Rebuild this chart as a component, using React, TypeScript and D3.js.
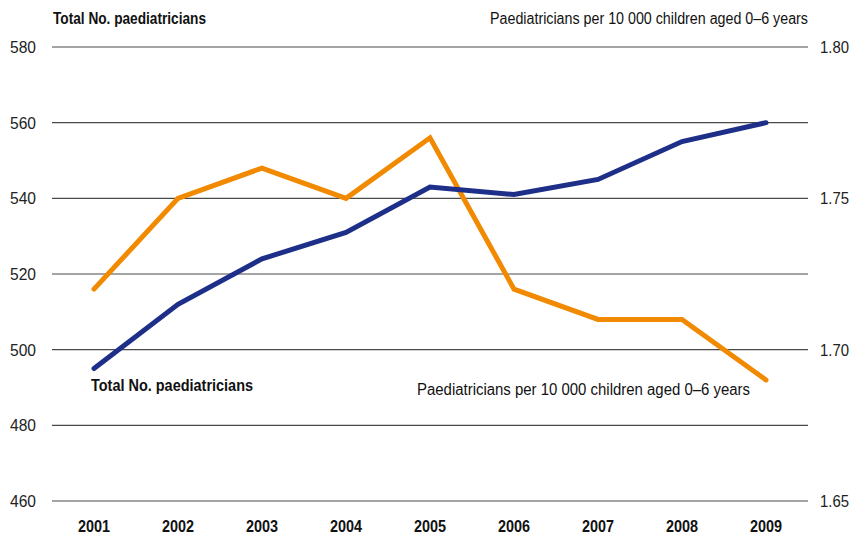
import React from "react";
import * as d3 from "d3";

const years = ["2001", "2002", "2003", "2004", "2005", "2006", "2007", "2008", "2009"];
const totalPaediatricians = [495, 512, 524, 531, 543, 541, 545, 555, 560];
const perTenThousand = [1.72, 1.75, 1.76, 1.75, 1.77, 1.72, 1.71, 1.71, 1.69];
const leftTicks = [460, 480, 500, 520, 540, 560, 580];
const rightTicks = [1.65, 1.7, 1.75, 1.8];

const W = 850;
const H = 534;
const FONT = "'Liberation Sans Narrow', 'Arial Narrow', 'Liberation Sans', Arial, sans-serif";

export default function App() {
  const x0 = 52, x1 = 808, yTop = 47, yBot = 501;
  const x = d3.scalePoint<string>().domain(years).range([x0, x1]).padding(0.5);
  const yL = d3.scaleLinear().domain([460, 580]).range([yBot, yTop]);
  const yR = d3.scaleLinear().domain([1.65, 1.8]).range([yBot, yTop]);

  const blueLine = d3.line<number>().x((_, i) => x(years[i])!).y((d) => yL(d))(totalPaediatricians)!;
  const orangeLine = d3.line<number>().x((_, i) => x(years[i])!).y((d) => yR(d))(perTenThousand)!;

  return (
    <svg width={W} height={H} style={{ position: "absolute", left: 0, top: 0, background: "#fff" }} fontFamily={FONT}>
      {leftTicks.map((t) => (
        <g key={t}>
          <line x1={x0} x2={x1} y1={yL(t)} y2={yL(t)} stroke="#4a4a4a" strokeWidth={1.2} />
          <text x={36} y={yL(t) + 6} textAnchor="end" fontSize={16} fill="#222" textLength={26} lengthAdjust="spacingAndGlyphs">{t}</text>
        </g>
      ))}
      {rightTicks.map((t) => (
        <text key={t} x={820} y={yR(t) + 6} textAnchor="start" fontSize={16} fill="#222" textLength={29} lengthAdjust="spacingAndGlyphs">{t.toFixed(2)}</text>
      ))}
      <text x={53} y={24} fontSize={16} fontWeight="bold" fill="#111" textLength={153} lengthAdjust="spacingAndGlyphs">Total No. paediatricians</text>
      <text x={490} y={24} fontSize={16} fill="#111" textLength={318} lengthAdjust="spacingAndGlyphs">Paediatricians per 10 000 children aged 0–6 years</text>

      <path d={orangeLine} fill="none" stroke="#f18a00" strokeWidth={5} strokeLinejoin="miter" strokeLinecap="round" />
      <path d={blueLine} fill="none" stroke="#1d2f88" strokeWidth={5} strokeLinejoin="miter" strokeLinecap="round" />

      <text x={91} y={391} fontSize={16} fontWeight="bold" fill="#111" textLength={162} lengthAdjust="spacingAndGlyphs">Total No. paediatricians</text>
      <text x={417} y={395} fontSize={16} fill="#111" textLength={333} lengthAdjust="spacingAndGlyphs">Paediatricians per 10 000 children aged 0–6 years</text>

      {years.map((yr) => (
        <text key={yr} x={x(yr)!} y={532} textAnchor="middle" fontSize={16} fontWeight="bold" fill="#111" textLength={32} lengthAdjust="spacingAndGlyphs">{yr}</text>
      ))}
    </svg>
  );
}
